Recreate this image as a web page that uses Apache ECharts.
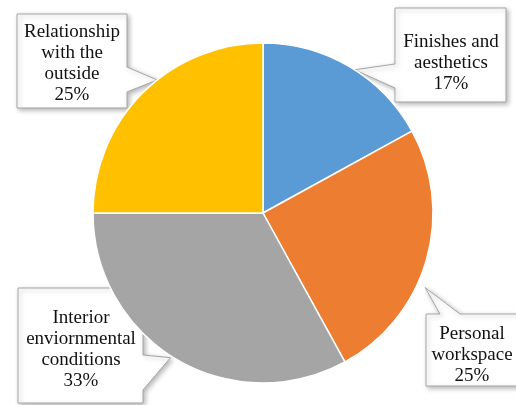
<!DOCTYPE html>
<html>
<head>
<meta charset="utf-8">
<script src="https://cdn.jsdelivr.net/npm/echarts@6/dist/echarts.min.js"></script>
<style>
  html, body { margin: 0; padding: 0; background: #fff; }
  #chart { width: 516px; height: 405px; }
</style>
</head>
<body>
<div id="chart"></div>
<script>
// Survey categories (line breaks are how each label wraps) and their shares in percent
const categories = [
  'Finishes and\naesthetics',
  'Personal\nworkspace',
  'Interior\nenviornmental\nconditions',
  'Relationship\nwith the\noutside'
];
const shares = [17, 25, 33, 25];
const sliceColors = ['#5B9BD5', '#ED7D31', '#A5A5A5', '#FFC000'];

// Callout layout: box rectangle, which edge the pointer leaves from,
// the pointer base span on that edge, text centre, and a small nudge of the tip angle / radius
const callouts = [
  { box: [395, 8, 111, 94],   side: 'left',  base: [64, 88],   text: [451, 63],  dAng: 2,   rScale: 1.0 },
  { box: [426, 314, 100, 72], side: 'top',   base: [440, 460], text: [472, 355], dAng: 8.5, rScale: 1.05 },
  { box: [18, 288, 125, 115], side: 'right', base: [355, 390], text: [81, 350],  dAng: 2,   rScale: 1.01 },
  { box: [17, 14, 110, 94],   side: 'right', base: [67, 92],   text: [72, 64],   dAng: 6.5, rScale: 1.0 }
];

const chart = echarts.init(document.getElementById('chart'), null, { renderer: 'canvas' });

chart.setOption({
  animation: false,
  backgroundColor: '#fff',
  series: [{
    type: 'pie',
    center: [263, 213],
    radius: 170,
    startAngle: 90,
    clockwise: true,
    avoidLabelOverlap: false,
    z: 2,
    data: categories.map((name, i) => ({
      name: name,
      value: shares[i],
      itemStyle: { color: sliceColors[i] }
    })),
    itemStyle: { borderColor: '#ffffff', borderWidth: 1.5 },
    label: {
      show: true,
      position: 'outside',
      formatter: '{b}\n{c}%',
      fontFamily: '"Liberation Serif", "Times New Roman", serif',
      fontSize: 19,
      lineHeight: 21,
      color: '#111111',
      align: 'center',
      overflow: 'none'
    },
    labelLine: { show: false },
    labelLayout: function (params) {
      const t = callouts[params.dataIndex].text;
      return { x: t[0], y: t[1], align: 'center', verticalAlign: 'middle' };
    },
    emphasis: { disabled: true }
  }]
});

// Build the callout shapes from the slice geometry the pie layout produced
const data = chart.getModel().getSeriesByIndex(0).getData();
const shapes = callouts.map((c, i) => {
  const lay = data.getItemLayout(i);
  const mid = (lay.startAngle + lay.endAngle) / 2 + c.dAng * Math.PI / 180;
  const r = lay.r * c.rScale;
  const tip = [lay.cx + r * Math.cos(mid), lay.cy + r * Math.sin(mid)];
  const [x, y, w, h] = c.box;
  const pts = [[x, y]];
  if (c.side === 'top') pts.push([c.base[0], y], tip, [c.base[1], y]);
  pts.push([x + w, y]);
  if (c.side === 'right') pts.push([x + w, c.base[0]], tip, [x + w, c.base[1]]);
  pts.push([x + w, y + h], [x, y + h]);
  if (c.side === 'left') pts.push([x, c.base[1]], tip, [x, c.base[0]]);
  return {
    type: 'polygon',
    z: 1,
    silent: true,
    shape: { points: pts },
    style: {
      fill: '#ffffff',
      stroke: '#a6a6a6',
      lineWidth: 1,
      shadowBlur: 5,
      shadowOffsetX: 2,
      shadowOffsetY: 2,
      shadowColor: 'rgba(0,0,0,0.28)'
    }
  };
});

chart.setOption({ graphic: { elements: shapes } });
</script>
</body>
</html>
